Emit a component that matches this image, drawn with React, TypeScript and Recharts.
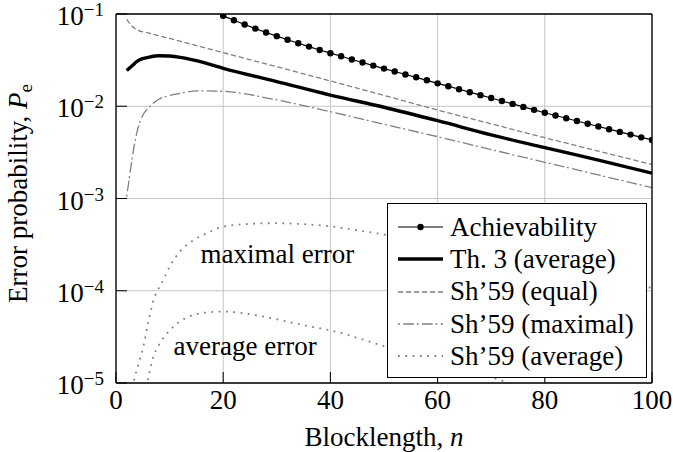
import { LineChart, Line, XAxis, YAxis, CartesianGrid, Legend, ReferenceDot, Label } from 'recharts'

const FONT = '"Liberation Serif", "Times New Roman", serif'
const GRAY = '#808080'

// axes
const xTicks = [0, 20, 40, 60, 80, 100]
const yTicks = [1e-5, 1e-4, 1e-3, 1e-2, 1e-1]
const yMinor = [1e-5, 1e-4, 1e-3, 1e-2].flatMap((d) => [2, 3, 4, 5, 6, 7, 8, 9].map((m) => m * d))

// Achievability (dots every 2)
const achN = [20, 22, 24, 26, 28, 30, 32, 34, 36, 38, 40, 42, 44, 46, 48, 50, 52, 54, 56, 58, 60,
  62, 64, 66, 68, 70, 72, 74, 76, 78, 80, 82, 84, 86, 88, 90, 92, 94, 96, 98, 100]
const achP = [0.0955, 0.0855, 0.0769, 0.0695, 0.0631, 0.0575, 0.0526, 0.0482, 0.0443, 0.0407, 0.0376,
  0.0348, 0.0321, 0.0298, 0.0276, 0.0256, 0.0238, 0.0221, 0.0206, 0.0191, 0.0177,
  0.0165, 0.0153, 0.0142, 0.0132, 0.0123, 0.0114, 0.0106, 0.00984, 0.00914, 0.00851,
  0.00794, 0.00741, 0.00692, 0.00646, 0.00603, 0.00564, 0.00527, 0.00493, 0.0046, 0.00431]

// Th. 3 (average)
const th3N = [2, 3, 4, 5, 6, 8, 10, 12, 15, 20, 30, 40, 50, 60, 70, 80, 90, 100]
const th3P = [0.0244, 0.0275, 0.0309, 0.0328, 0.0339, 0.0353, 0.035, 0.0339, 0.0312, 0.0258, 0.0185,
  0.0132, 0.00975, 0.00697, 0.0049, 0.00356, 0.00261, 0.00188]

// Sh'59 (equal)
const eqN = [2, 3, 4, 6, 8, 10, 15, 20, 30, 40, 50, 60, 70, 80, 90, 100]
const eqP = [0.0875, 0.0735, 0.0671, 0.0625, 0.0582, 0.0543, 0.0455, 0.0381, 0.0268, 0.0188, 0.0131,
  0.0091, 0.00645, 0.00456, 0.00326, 0.00234]

// Sh'59 (maximal)
const maxN = [2, 4, 5, 6, 8, 10, 12, 15, 20, 30, 40, 50, 60, 70, 80, 90, 100]
const maxP = [0.00105, 0.0055, 0.008, 0.0095, 0.0119, 0.0131, 0.0138, 0.0147, 0.0145, 0.0117, 0.00873,
  0.00638, 0.00468, 0.00339, 0.00247, 0.0018, 0.00131]

// Sh'59 (average), upper curve ("maximal error")
const avgHiN = [3, 4, 5, 6, 7, 8, 9, 10, 12, 14, 17, 20, 25, 30, 35, 40, 45, 50, 60, 70, 80, 90, 100]
const avgHiP = [8.9e-6, 1.48e-5, 2.34e-5, 4.47e-5, 7.94e-5, 1.07e-4, 1.38e-4, 1.82e-4, 2.69e-4, 3.39e-4,
  4.22e-4, 4.94e-4, 5.31e-4, 5.4e-4, 5.27e-4, 4.99e-4, 4.52e-4, 4.07e-4, 3.24e-4, 2.51e-4, 1.9e-4,
  1.45e-4, 1.07e-4]

// Sh'59 (average), lower curve ("average error")
const avgLoN = [5, 6, 7, 8, 9, 10, 12, 14, 17, 20, 24, 28, 32, 36, 40, 45, 50, 55, 60, 65, 70, 75, 80]
const avgLoP = [6.3e-6, 1.12e-5, 1.95e-5, 2.57e-5, 3.16e-5, 3.72e-5, 4.68e-5, 5.37e-5, 5.82e-5, 5.94e-5,
  5.69e-5, 5.19e-5, 4.62e-5, 4.12e-5, 3.72e-5, 3.09e-5, 2.51e-5, 2.09e-5, 1.7e-5, 1.38e-5, 1.15e-5,
  9.3e-6, 7.6e-6]

const legendNames = ['Achievability', 'Th. 3 (average)', "Sh\u201959 (equal)", "Sh\u201959 (maximal)", "Sh\u201959 (average)"]

const rows = (n: number[], p: number[]) => n.map((x, i) => ({ n: x, p: p[i] }))

const sampleStyles = [
  { stroke: '#000', width: 1.2, dash: undefined, dot: true },
  { stroke: '#000', width: 3.4, dash: undefined, dot: false },
  { stroke: GRAY, width: 1.3, dash: '5.3 2.7', dot: false },
  { stroke: GRAY, width: 1.3, dash: '2 3.3 10.7 2.7', dot: false },
  { stroke: GRAY, width: 1.8, dash: '1.8 5.5', dot: false },
]

const YTick = ({ x, y, payload }: any) => {
  const e = Math.round(Math.log10(payload.value))
  return (
    <text x={x} y={y + 11} textAnchor="end" fontFamily={FONT} fontSize={27} fill="#000">
      <tspan>10</tspan>
      <tspan dy={-9} fontSize={19}>{'\u2212' + Math.abs(e)}</tspan>
    </text>
  )
}

const XTick = ({ x, y, payload }: any) => (
  <text x={x} y={y + 26} textAnchor="middle" fontFamily={FONT} fontSize={27} fill="#000">
    {payload.value}
  </text>
)

const LegendBox = () => (
  <div style={{ width: 260, height: 175, boxSizing: 'border-box', border: '1px solid #000', background: '#fff',
    paddingTop: 7, paddingLeft: 10, fontFamily: FONT, fontSize: 27, color: '#000' }}>
    {legendNames.map((name, i) => {
      const s = sampleStyles[i]
      return (
        <div key={name} style={{ height: 32.3, display: 'flex', alignItems: 'center', whiteSpace: 'nowrap' }}>
          <svg width={46} height={10} style={{ marginRight: 6, flex: 'none' }}>
            <line x1={0} x2={45} y1={5} y2={5} stroke={s.stroke} strokeWidth={s.width} strokeDasharray={s.dash} />
            {s.dot && <circle cx={22.5} cy={5} r={3.2} fill="#000" />}
          </svg>
          <span>{name}</span>
        </div>
      )
    })}
  </div>
)

export default function App() {
  return (
    <div style={{ position: 'absolute', left: 0, top: 0 }}>
      <LineChart width={673} height={452} margin={{ top: 13, right: 19, left: 114, bottom: 68 }}
        style={{ fontFamily: FONT }}>
        <CartesianGrid xAxisId="b" yAxisId="l" stroke="#c4c4c4" strokeWidth={1} />
        <XAxis xAxisId="b" dataKey="n" type="number" domain={[0, 100]} ticks={xTicks} height={1}
          allowDataOverflow tickSize={-11} tickMargin={11} tick={<XTick />}
          axisLine={{ stroke: '#000', strokeWidth: 1.3 }} tickLine={{ stroke: '#000' }}>
          <Label content={({ viewBox }: any) => (
            <text x={viewBox.x + viewBox.width / 2} y={viewBox.y + 63} textAnchor="middle"
              fontFamily={FONT} fontSize={27} fill="#000">
              Blocklength, <tspan fontStyle="italic">n</tspan>
            </text>
          )} />
        </XAxis>
        <XAxis xAxisId="t" orientation="top" type="number" domain={[0, 100]} ticks={xTicks} height={1}
          tick={false} tickSize={-11} axisLine={{ stroke: '#000', strokeWidth: 1.3 }} tickLine={{ stroke: '#000' }} />
        <YAxis yAxisId="l" type="number" scale="log" domain={[1e-5, 1e-1]} ticks={yTicks} width={1}
          allowDataOverflow tickSize={-11} tickMargin={23} tick={<YTick />}
          axisLine={{ stroke: '#000', strokeWidth: 1.3 }} tickLine={{ stroke: '#000' }}>
          <Label content={({ viewBox }: any) => {
            const cx = viewBox.x + viewBox.width - 89
            const cy = viewBox.y + viewBox.height / 2 - 5
            return (
              <text x={cx} y={cy} transform={`rotate(-90, ${cx}, ${cy})`} textAnchor="middle"
                fontFamily={FONT} fontSize={27} fill="#000">
                Error probability, <tspan fontStyle="italic">P</tspan>
                <tspan dy={5} fontSize={19}>e</tspan>
              </text>
            )
          }} />
        </YAxis>
        <YAxis yAxisId="lm" type="number" scale="log" domain={[1e-5, 1e-1]} ticks={yMinor} width={1}
          allowDataOverflow tick={false} tickSize={-7} axisLine={false} tickLine={{ stroke: '#000' }} />
        <YAxis yAxisId="r" orientation="right" type="number" scale="log" domain={[1e-5, 1e-1]} ticks={yTicks}
          width={1} allowDataOverflow tick={false} tickSize={-11}
          axisLine={{ stroke: '#000', strokeWidth: 1.3 }} tickLine={{ stroke: '#000' }} />
        <YAxis yAxisId="rm" orientation="right" type="number" scale="log" domain={[1e-5, 1e-1]} ticks={yMinor}
          width={1} allowDataOverflow tick={false} tickSize={-7} axisLine={false} tickLine={{ stroke: '#000' }} />

        <Line data={rows(avgHiN, avgHiP)} dataKey="p" xAxisId="b" yAxisId="l" type="monotone" stroke={GRAY}
          strokeWidth={1.8} strokeDasharray="1.8 5.5" dot={false} isAnimationActive={false} />
        <Line data={rows(avgLoN, avgLoP)} dataKey="p" xAxisId="b" yAxisId="l" type="monotone" stroke={GRAY}
          strokeWidth={1.8} strokeDasharray="1.8 5.5" dot={false} isAnimationActive={false} />
        <Line data={rows(maxN, maxP)} dataKey="p" xAxisId="b" yAxisId="l" type="monotone" stroke={GRAY}
          strokeWidth={1.3} strokeDasharray="2 3.3 10.7 2.7" dot={false} isAnimationActive={false} />
        <Line data={rows(eqN, eqP)} dataKey="p" xAxisId="b" yAxisId="l" type="monotone" stroke={GRAY}
          strokeWidth={1.3} strokeDasharray="5.3 2.7" dot={false} isAnimationActive={false} />
        <Line data={rows(th3N, th3P)} dataKey="p" xAxisId="b" yAxisId="l" type="monotone" stroke="#000"
          strokeWidth={3.4} dot={false} isAnimationActive={false} />
        <Line data={rows(achN, achP)} dataKey="p" xAxisId="b" yAxisId="l" type="linear" stroke="#000"
          strokeWidth={1.2} dot={{ r: 3.2, fill: '#000', stroke: 'none' }} isAnimationActive={false} />

        <ReferenceDot xAxisId="b" yAxisId="l" x={30.1} y={2.54e-4} r={0} fill="none" stroke="none" ifOverflow="visible">
          <Label value="maximal error" position="center" fontFamily={FONT} fontSize={27} fill="#000" />
        </ReferenceDot>
        <ReferenceDot xAxisId="b" yAxisId="l" x={24.1} y={2.56e-5} r={0} fill="none" stroke="none" ifOverflow="visible">
          <Label value="average error" position="center" fontFamily={FONT} fontSize={27} fill="#000" />
        </ReferenceDot>

        <Legend layout="vertical" align="center" verticalAlign="middle" content={<LegendBox />}
          wrapperStyle={{ left: 387, top: 203, width: 260, height: 175 }} />
      </LineChart>
    </div>
  )
}
